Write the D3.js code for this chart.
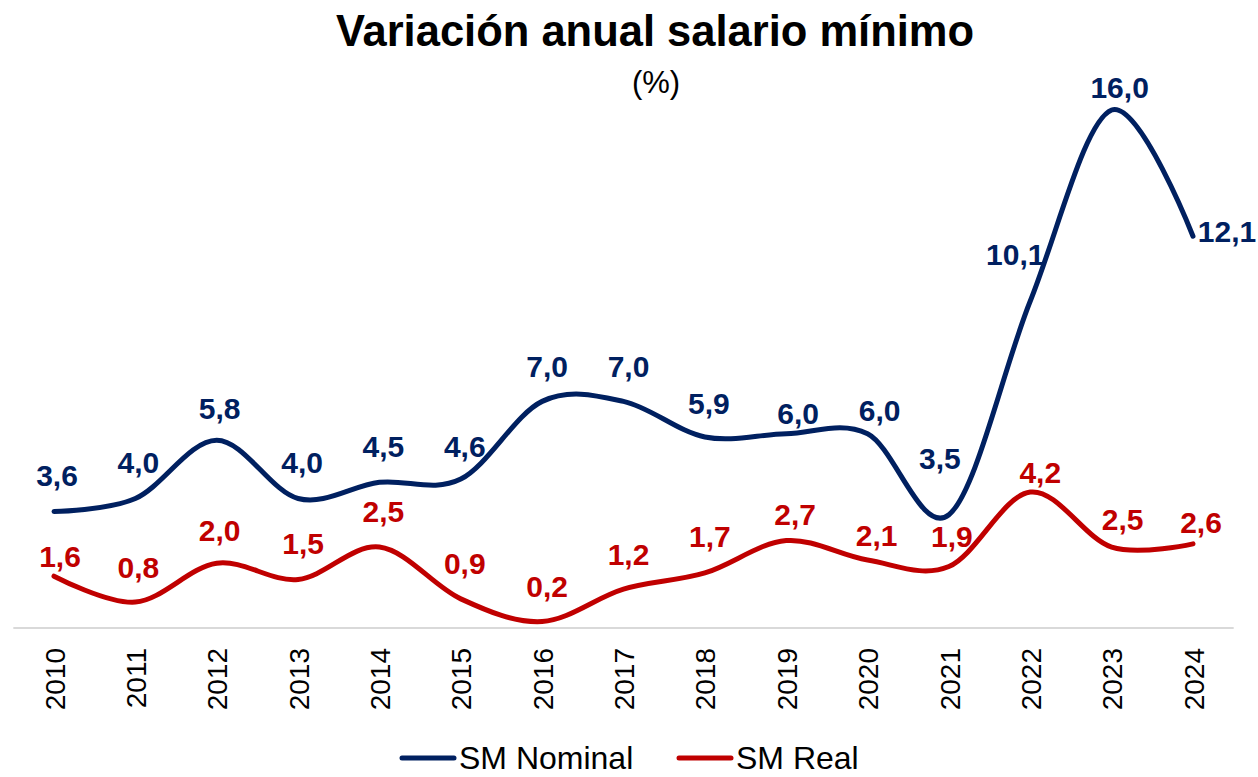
<!DOCTYPE html>
<html>
<head>
<meta charset="utf-8">
<script src="https://cdn.jsdelivr.net/npm/d3@7"></script>
<style>
  html, body { margin: 0; padding: 0; background: #ffffff; }
  svg { display: block; }
</style>
</head>
<body>
<svg id="chart" width="1258" height="777"></svg>
<script>
// ---- data ----
const years = ["2010","2011","2012","2013","2014","2015","2016","2017","2018","2019","2020","2021","2022","2023","2024"];
const nominal = [3.6, 4.0, 5.8, 4.0, 4.5, 4.6, 7.0, 7.0, 5.9, 6.0, 6.0, 3.5, 10.1, 16.0, 12.1];
const real    = [1.6, 0.8, 2.0, 1.5, 2.5, 0.9, 0.2, 1.2, 1.7, 2.7, 2.1, 1.9, 4.2, 2.5, 2.6];
const seriesNames = ["SM Nominal", "SM Real"];
const titleText = "Variación anual salario mínimo";
const subtitleText = "(%)";

// ---- layout (label nudges, px) ----
const nominalLabelOffsets = [[3,-36],[3,-36],[3,-32],[4,-36],[4,-36],[4,-33],[5,-35],[5,-35],[4,-34],[12,-21],[12,-24],[-9,-56],[-15,-47],[8,-23],[34,-5]];
const realLabelOffsets    = [[6,-20],[3,-35],[3,-33],[5,-36],[4,-36],[4,-36],[5,-35],[5,-35],[5,-37],[9,-26],[9,-25],[3,-30],[10,-20],[11,-28],[8,-22]];
const colors = ["#002060", "#C00000"];
const FONT = "'Liberation Sans', Arial, sans-serif";

const svg = d3.select("#chart");
const x = d3.scalePoint().domain(years).range([54, 1193]);
const step = x.step();
const y = d3.scaleLinear().domain([0, 16]).range([628, 110]);

// title
svg.append("text").attr("x", 655).attr("y", 46).attr("text-anchor", "middle")
  .attr("font-family", FONT).attr("font-weight", "bold").attr("font-size", 43.5)
  .attr("fill", "#000").text(titleText);
svg.append("text").attr("x", 656).attr("y", 93).attr("text-anchor", "middle")
  .attr("font-family", FONT).attr("font-size", 31)
  .attr("fill", "#000").text(subtitleText);

// x axis
const xAxis = d3.axisBottom(x).tickSize(0).tickPadding(0);
const gx = svg.append("g").attr("transform", "translate(0,628)").call(xAxis);
gx.select(".domain").remove();
gx.append("line").attr("x1", x(years[0]) - step/2).attr("x2", x(years[years.length-1]) + step/2)
  .attr("y1", 0).attr("y2", 0).attr("stroke", "#d9d9d9").attr("stroke-width", 2);
gx.selectAll(".tick text")
  .attr("font-family", FONT).attr("font-size", 28).attr("fill", "#000")
  .attr("text-anchor", "end")
  .attr("transform", "translate(0,20) rotate(-90)")
  .attr("x", 0).attr("y", 0).attr("dy", "0.36em");

// lines
const line = d3.line().x((d, i) => x(years[i])).y(d => y(d)).curve(d3.curveCardinal.tension(0));
[nominal, real].forEach((s, k) => {
  svg.append("path").datum(s).attr("d", line).attr("fill", "none")
    .attr("stroke", colors[k]).attr("stroke-width", 5).attr("stroke-linecap", "round")
    .attr("stroke-linejoin", "round");
});

// labels
const fmt = v => d3.format(".1f")(v).replace(".", ",");
[[nominal, nominalLabelOffsets], [real, realLabelOffsets]].forEach(([s, off], k) => {
  svg.append("g").selectAll("text").data(s).join("text")
    .attr("x", (d, i) => x(years[i]) + off[i][0])
    .attr("y", (d, i) => y(d) + off[i][1])
    .attr("dy", "0.36em")
    .attr("text-anchor", "middle")
    .attr("font-family", FONT).attr("font-weight", "bold").attr("font-size", 30)
    .attr("fill", colors[k]).text(d => fmt(d));
});

// legend
const legendItems = [{x: 402}, {x: 679}];
legendItems.forEach((it, k) => {
  const g = svg.append("g").attr("transform", `translate(${it.x},758)`);
  g.append("line").attr("x1", 0).attr("x2", 52).attr("y1", 0).attr("y2", 0)
    .attr("stroke", colors[k]).attr("stroke-width", 5).attr("stroke-linecap", "round");
  g.append("text").attr("x", 57).attr("y", 0).attr("dy", "0.34em")
    .attr("font-family", FONT).attr("font-size", 32).attr("fill", "#000")
    .text(seriesNames[k]);
});
</script>
</body>
</html>
